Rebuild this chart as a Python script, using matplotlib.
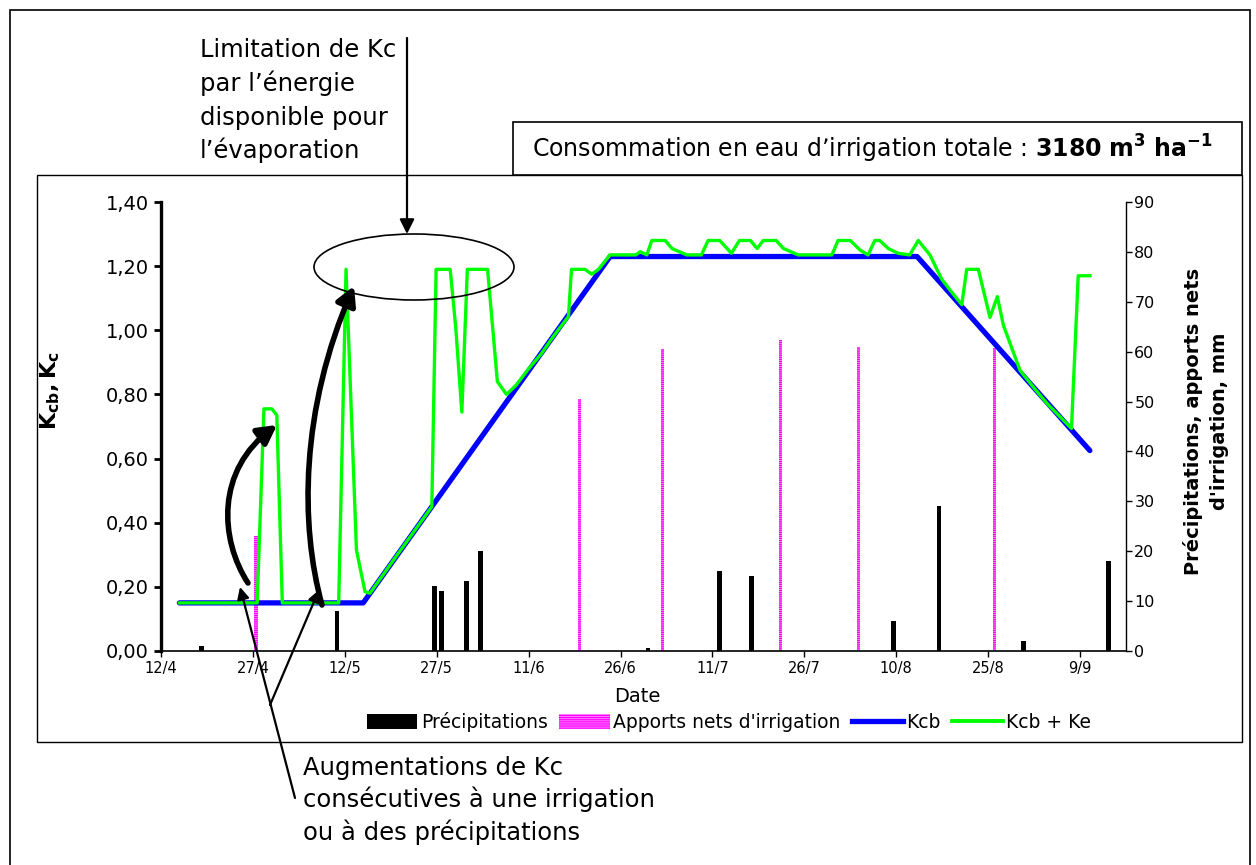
import matplotlib
matplotlib.use("Agg")
import matplotlib.pyplot as plt
from matplotlib.patches import Rectangle, Ellipse, FancyArrowPatch
from matplotlib.lines import Line2D
from matplotlib.path import Path
from matplotlib.ticker import FuncFormatter

W, H = 1256, 865

# jours comptés depuis le 12/4
kcb_day = [3, 33.0, 73.3, 123.4, 151.6]
kcb_val = [0.15, 0.15, 1.23, 1.23, 0.625]

kc_day = [3, 15.7, 16.8, 18.1, 18.9, 19.8, 29.0, 30.2, 31.9, 33.3, 34.1, 35.4, 38, 41, 44.2,
          44.9, 47.2, 48.1, 49.1, 50.0, 53.3, 54.9, 56.4, 58, 60, 62, 64, 66.5, 67.0, 69.2,
          70.3, 71.4, 73.3, 77.5, 78.2, 79.3, 80.1, 82.3, 83.4, 85.8, 88.2, 89.3, 91.2, 93.1,
          94.4, 96.2, 97.3, 98.3, 100.4, 101.6, 104.0, 109.5, 110.5, 112.5, 114.1, 115.4, 116.5,
          117.3, 118.7, 120.3, 122.2, 123.6, 125.5, 127.4, 128.8, 130.7, 131.5, 133.4, 135.3,
          136.5, 137.5, 140.2, 142.5, 144.6, 146.5, 148.6, 149.7, 151.6]
kc_val = [0.15, 0.15, 0.755, 0.755, 0.735, 0.15, 0.15, 1.19, 0.315, 0.185, 0.18, 0.215, 0.285,
          0.365, 0.45, 1.19, 1.19, 1.01, 0.745, 1.19, 1.19, 0.84, 0.80, 0.83, 0.88, 0.925, 0.98,
          1.043, 1.19, 1.19, 1.175, 1.19, 1.235, 1.235, 1.245, 1.235, 1.28, 1.28, 1.255, 1.235,
          1.235, 1.28, 1.28, 1.24, 1.28, 1.28, 1.255, 1.28, 1.28, 1.255, 1.235, 1.235, 1.28, 1.28,
          1.25, 1.235, 1.28, 1.28, 1.255, 1.24, 1.235, 1.28, 1.235, 1.16, 1.125, 1.08, 1.19, 1.19,
          1.04, 1.105, 1.015, 0.875, 0.82, 0.772, 0.735, 0.694, 1.17, 1.17]

pluie_day = [6.6, 28.7, 44.6, 45.75, 49.9, 52.1, 79.5, 91.2, 96.4, 119.6, 127.0, 140.8, 154.6]
pluie_mm = [1, 8, 13, 12, 14, 20, 0.6, 16, 15, 6, 29, 2, 18]

irrig_day = [15.5, 68.3, 81.9, 101.1, 113.8, 136.0]
irrig_mm = [23, 50.5, 60.5, 62.3, 61, 60.7]

tick_days = [0, 15, 30, 45, 60, 75, 90, 105, 120, 135, 150]
tick_labels = ["12/4", "27/4", "12/5", "27/5", "11/6", "26/6", "11/7", "26/7", "10/8", "25/8", "9/9"]


def fx(x):
    return x / W


def fy(y):
    return 1 - y / H


fig = plt.figure(figsize=(W / 100, H / 100), dpi=100)

# cadres
fig.patches.append(Rectangle((fx(10), fy(875)), fx(1250) - fx(10), (875 - 10) / H,
                             transform=fig.transFigure, fill=False, lw=1.2, ec="black"))
fig.patches.append(Rectangle((fx(37), fy(742)), fx(1242) - fx(37), (742 - 175) / H,
                             transform=fig.transFigure, fill=False, lw=1.0, ec="black"))
fig.patches.append(Rectangle((fx(513), fy(175)), fx(1242) - fx(513), (175 - 122) / H,
                             transform=fig.transFigure, fc="white", lw=1.2, ec="black"))

ax = fig.add_axes([fx(161), fy(651), (1126 - 161) / W, (651 - 202) / H])
ax2 = ax.twinx()
ax.set_zorder(ax2.get_zorder() + 1)
ax.patch.set_visible(False)

ax2.bar(pluie_day, pluie_mm, width=0.75, color="black", label="Précipitations")
ax2.bar(irrig_day, irrig_mm, width=0.5, facecolor="#ffb0ff", edgecolor="#ff00ff",
        hatch="--------", lw=0, label="Apports nets d'irrigation")

ax.plot(kcb_day, kcb_val, color="#0000ff", lw=3.8, solid_capstyle="round", label="Kcb")
ax.plot(kc_day, kc_val, color="#00ff00", lw=2.4, label="Kcb + Ke")

ax.set_xlim(0, 157.5)
ax.set_ylim(0, 1.4)
ax2.set_ylim(0, 90)
ax.set_yticks([0, 0.2, 0.4, 0.6, 0.8, 1.0, 1.2, 1.4])
ax.yaxis.set_major_formatter(FuncFormatter(lambda v, p: f"{v:.2f}".replace(".", ",")))
ax2.set_yticks(range(0, 91, 10))
ax.set_xticks(tick_days)
ax.set_xticklabels(tick_labels)

for s in ["top", "right"]:
    ax.spines[s].set_visible(False)
for s in ["top", "left", "bottom"]:
    ax2.spines[s].set_visible(False)
ax.spines["left"].set_linewidth(2.4)
ax.spines["bottom"].set_linewidth(1.2)
ax2.spines["right"].set_linewidth(1.0)

ax.tick_params(axis="y", direction="out", length=5, width=2, labelsize=14, pad=4)
ax.tick_params(axis="x", direction="out", length=4, width=1, labelsize=10.5, pad=3)
ax2.tick_params(axis="y", direction="out", length=4, width=1, labelsize=11.5, pad=2)

ax.set_ylabel(r"$\mathbf{K_{cb}, K_c}$", fontsize=16)
ax.yaxis.set_label_coords(fx(62) / ((1126 - 161) / W) - fx(161) / ((1126 - 161) / W), 0.58)
fig.text(fx(637), fy(697), "Date", ha="center", va="center", fontsize=14)
fig.text(fx(1206), fy(421), "Précipitations, apports nets\nd'irrigation, mm", rotation=90,
         ha="center", va="center", fontsize=14, fontweight="bold", linespacing=1.5)

handles = [Rectangle((0, 0), 1, 1, fc="black"),
           Rectangle((0, 0), 1, 1, fc="#ffb0ff", ec="#ff00ff", hatch="--------", lw=0),
           Line2D([], [], color="#0000ff", lw=3.8),
           Line2D([], [], color="#00ff00", lw=2.8)]
labels = ["Précipitations", "Apports nets d'irrigation", "Kcb", "Kcb + Ke"]
fig.legend(handles, labels, loc="center", bbox_to_anchor=(fx(729), fy(722)), ncol=4,
           frameon=False, fontsize=13.5, handlelength=2.7, handleheight=0.8,
           handletextpad=0.2, columnspacing=0.6, borderpad=0)

# encadré consommation
fig.text(fx(532), fy(158), "Consommation en eau d’irrigation totale : $\\mathbf{3180\\ m^3\\ ha^{-1}}$",
         ha="left", va="baseline", fontsize=17)

# annotations
top_lines = ["Limitation de Kc", "par l’énergie", "disponible pour", "l’évaporation"]
for i, t in enumerate(top_lines):
    fig.text(fx(200), fy(57 + i * 33.8), t, ha="left", va="baseline", fontsize=17.5)
bot_lines = ["Augmentations de Kc", "consécutives à une irrigation", "ou à des précipitations"]
for i, t in enumerate(bot_lines):
    fig.text(fx(303), fy(775 + i * 32.5), t, ha="left", va="baseline", fontsize=17.5)

fig.patches.append(Ellipse((fx(414), fy(267)), 200 / W, 66 / H, transform=fig.transFigure,
                           fill=False, ec="black", lw=1.2, zorder=5))
fig.patches.append(FancyArrowPatch((fx(407), fy(38)), (fx(407), fy(234)), transform=fig.transFigure,
                                   arrowstyle="-|>", mutation_scale=22, lw=1.6, color="black",
                                   shrinkA=0, shrinkB=0, zorder=6))


def curve(pts):
    verts = [(fx(x), fy(y)) for x, y in pts]
    return Path(verts, [Path.MOVETO, Path.CURVE4, Path.CURVE4, Path.CURVE4])


for pts in [[(248, 583), (220, 540), (215, 470), (277, 425)],
            [(322, 605), (300, 525), (300, 410), (354, 286)]]:
    fig.patches.append(FancyArrowPatch(path=curve(pts), transform=fig.transFigure,
                                       arrowstyle="-|>,head_length=0.55,head_width=0.3",
                                       mutation_scale=20, lw=4, color="black", zorder=6))

for a, b in [((295, 798), (240, 587)), ((270, 705), (319, 590))]:
    fig.patches.append(FancyArrowPatch((fx(a[0]), fy(a[1])), (fx(b[0]), fy(b[1])),
                                       transform=fig.transFigure, arrowstyle="-|>",
                                       mutation_scale=18, lw=1.6, color="black",
                                       shrinkA=0, shrinkB=0, zorder=6))

fig.savefig("out.png", dpi=100)
